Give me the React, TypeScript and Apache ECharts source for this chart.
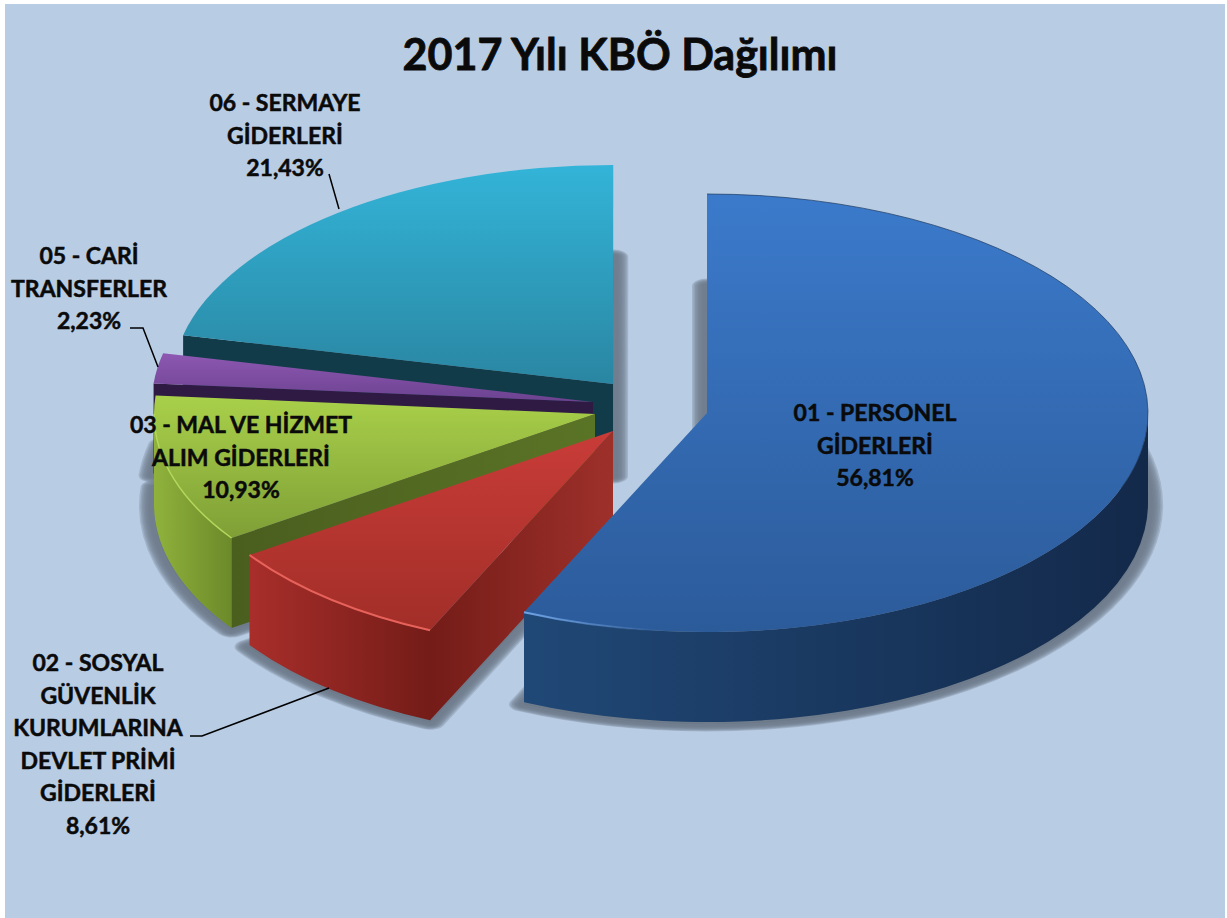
import React, { useEffect, useRef } from "react";
import * as echarts from "echarts";

const titleText = "2017 Yılı KBÖ Dağılımı";
const categories = [
  "01 - PERSONEL\nGİDERLERİ",
  "02 - SOSYAL\nGÜVENLİK\nKURUMLARINA\nDEVLET PRİMİ\nGİDERLERİ",
  "03 - MAL VE HİZMET\nALIM GİDERLERİ",
  "05 - CARİ\nTRANSFERLER",
  "06 - SERMAYE\nGİDERLERİ",
];
const values = [56.81, 8.61, 10.93, 2.23, 21.43];
const percentLabels = ["56,81%", "8,61%", "10,93%", "2,23%", "21,43%"];

// Layout and style, separate from the data
const RX = 441;
const RY = 219;
const DEPTH = 90;
const centers = [
  [707, 413],
  [613, 431],
  [595, 414],
  [593, 402],
  [613, 384],
];
const topColors = [
  ["#3B7ACB", "#2C5B9A"],
  ["#C93C38", "#A22E28"],
  ["#A9D04A", "#7F9F36"],
  ["#8D58B2", "#6C4290"],
  ["#33B4D8", "#2A86A2"],
];
const outerWall = [
  ["#204876", "#13294A"],
  ["#A82E2A", "#741C18"],
  ["#90B23C", "#6C8A2A"],
  ["#2E1A42", "#2E1A42"],
  ["#123A48", "#123A48"],
];
const sideWall = [
  ["#204876", "#204876"],
  ["#741C18", "#9E302A"],
  ["#4A5E1E", "#5A7426"],
  ["#2E1A42", "#2E1A42"],
  ["#123B49", "#123B49"],
];
const rimColors = ["#6FA3E6", "#E8625C", "#B4D85C", "#A97BCB", "#5CC8E4"];
const labelPos = [
  [875, 412],
  [98, 662],
  [241, 424],
  [89, 255],
  [285, 102],
];
const leaders = [
  null,
  [[190, 736], [202, 736], [329, 688]],
  null,
  [[130, 328], [143, 328], [158, 367]],
  [[329, 174], [339, 209]],
];
const drawOrder = [4, 3, 2, 1, 0];
const shadowStrokes = [30, 27, 24, 21, 18, 15, 12, 9];

const toRad = Math.PI / 180;
const starts: number[] = [];
values.reduce((acc, v, i) => {
  starts[i] = acc;
  return acc + v * 3.6;
}, 0);

function pt(i: number, deg: number, dy = 0) {
  const [cx, cy] = centers[i];
  return [cx + RX * Math.sin(deg * toRad), cy - RY * Math.cos(deg * toRad) + dy];
}
function arcTo(i: number, deg: number, sweep: number, large: number, dy = 0) {
  const p = pt(i, deg, dy);
  return `A${RX} ${RY} 0 ${large} ${sweep} ${p[0].toFixed(2)} ${p[1].toFixed(2)}`;
}
function wedgePath(i: number, dy = 0) {
  const a = starts[i];
  const b = a + values[i] * 3.6;
  const [cx, cy] = centers[i];
  const s = pt(i, a, dy);
  return `M${cx} ${cy + dy}L${s[0].toFixed(2)} ${s[1].toFixed(2)}${arcTo(i, b, 1, b - a > 180 ? 1 : 0, dy)}Z`;
}
// Same wedge with y doubled: the element is drawn at scaleY 0.5, so its stroke grows half as much vertically.
function shadowWedge(i: number, dy: number) {
  const a = starts[i];
  const b = a + values[i] * 3.6;
  const [cx, cy] = centers[i];
  const s = pt(i, a, dy);
  const e = pt(i, b, dy);
  return `M${cx} ${(cy + dy) * 2}L${s[0].toFixed(2)} ${(s[1] * 2).toFixed(2)}A${RX} ${RY * 2} 0 ${b - a > 180 ? 1 : 0} 1 ${e[0].toFixed(2)} ${(e[1] * 2).toFixed(2)}Z`;
}
function sidePath(i: number) {
  const [cx, cy] = centers[i];
  const s = pt(i, starts[i]);
  return `M${cx} ${cy}L${s[0]} ${s[1]}L${s[0]} ${s[1] + DEPTH}L${cx} ${cy + DEPTH}Z`;
}
function wallPath(i: number) {
  const a = Math.max(starts[i], 90);
  const b = Math.min(starts[i] + values[i] * 3.6, 270);
  if (b <= a) return null;
  const s = pt(i, a);
  const e = pt(i, b, DEPTH);
  return `M${s[0]} ${s[1]}${arcTo(i, b, 1, 0)}L${e[0]} ${e[1]}${arcTo(i, a, 0, 0, DEPTH)}Z`;
}
function arcLine(i: number, a: number, b: number) {
  const s = pt(i, a);
  return `M${s[0]} ${s[1]}${arcTo(i, b, 1, b - a > 180 ? 1 : 0)}`;
}
const vGrad = (c: string[]) =>
  new echarts.graphic.LinearGradient(0, 0, 0, 1, [
    { offset: 0, color: c[0] },
    { offset: 1, color: c[1] },
  ]);
const hGrad = (c: string[]) =>
  new echarts.graphic.LinearGradient(0, 0, 1, 0, [
    { offset: 0, color: c[0] },
    { offset: 1, color: c[1] },
  ]);

function renderShadow(params: any) {
  const i = drawOrder[params.dataIndex];
  const pathData = shadowWedge(i, DEPTH + 2);
  return {
    type: "group",
    silent: true,
    children: shadowStrokes.map((w) => ({
      type: "path",
      scaleY: 0.5,
      shape: { pathData },
      style: {
        fill: "#6E7A8A",
        stroke: "#6E7A8A",
        lineWidth: w,
        lineJoin: "round",
        opacity: 0.3,
      },
    })),
  };
}

function renderSlice(params: any) {
  const i = drawOrder[params.dataIndex];
  const children: any[] = [];
  if (i !== 0) {
    children.push({
      type: "path",
      shape: { pathData: sidePath(i) },
      style: { fill: hGrad(sideWall[i]) },
    });
  }
  const wall = wallPath(i);
  if (wall) {
    children.push({
      type: "path",
      shape: { pathData: wall },
      style: { fill: hGrad(outerWall[i]) },
    });
  }
  children.push({
    type: "path",
    shape: { pathData: wedgePath(i) },
    style: { fill: vGrad(topColors[i]) },
  });
  const a = starts[i];
  const b = a + values[i] * 3.6;
  if (i === 0) {
    children.push({
      type: "path",
      shape: { pathData: arcLine(i, 0, 110) },
      style: { fill: "none", stroke: "#1E3A60", lineWidth: 1, opacity: 0.7 },
    });
    children.push({
      type: "path",
      shape: { pathData: arcLine(i, 186, b) },
      style: {
        fill: "none",
        lineWidth: 2,
        stroke: new echarts.graphic.LinearGradient(1, 0, 0, 0, [
          { offset: 0, color: "rgba(111,163,230,0)" },
          { offset: 1, color: rimColors[0] },
        ]),
      },
    });
  } else if (i <= 2) {
    children.push({
      type: "path",
      shape: { pathData: arcLine(i, a, Math.min(b, 270)) },
      style: { fill: "none", stroke: rimColors[i], lineWidth: i === 1 ? 2 : 1.5 },
    });
  }
  return { type: "group", children };
}

export default function App() {
  const ref = useRef<HTMLDivElement>(null);
  useEffect(() => {
    document.body.style.margin = "0";
    document.body.style.overflow = "hidden";
    const chart = echarts.init(ref.current!, null, { renderer: "svg" });
    const labelFont = {
      fontFamily: "Lato",
      fontWeight: "bold",
      fontSize: 23,
      fill: "#0A0A0A",
      stroke: "#0A0A0A",
      lineWidth: 0.5,
    };
    const graphics: any[] = [
      { type: "rect", z: -10, silent: true, shape: { x: 5, y: 4, width: 1220, height: 914 }, style: { fill: "#B8CCE4" } },
    ];
    categories.forEach((name, i) => {
      const lines = `${name}\n${percentLabels[i]}`.split("\n");
      lines.forEach((line, k) => {
        graphics.push({
          type: "text",
          z: 20,
          silent: true,
          x: labelPos[i][0],
          y: labelPos[i][1] + k * 32.6,
          style: { ...labelFont, text: line, textAlign: "center", textVerticalAlign: "middle" },
        });
      });
      const l = leaders[i];
      if (l) {
        graphics.push({
          type: "polyline",
          z: 19,
          silent: true,
          shape: { points: l },
          style: { fill: "none", stroke: "#000", lineWidth: 1.5 },
        });
      }
    });
    chart.setOption({
      animation: false,
      backgroundColor: "#FFFFFF",
      title: {
        text: titleText,
        left: 615,
        textAlign: "center",
        top: 27,
        textStyle: {
          fontFamily: "Lato",
          fontWeight: "bold",
          fontSize: 43,
          color: "#0A0A0A",
          textBorderColor: "#0A0A0A",
          textBorderWidth: 0.8,
        },
      },
      graphic: graphics,
      series: [
        {
          type: "custom",
          coordinateSystem: "none",
          z: 2,
          silent: true,
          data: drawOrder.map((i) => values[i]),
          renderItem: renderShadow,
        },
        {
          type: "custom",
          coordinateSystem: "none",
          z: 3,
          silent: true,
          data: drawOrder.map((i) => values[i]),
          renderItem: renderSlice,
        },
      ],
    });
    return () => chart.dispose();
  }, []);
  return <div ref={ref} style={{ position: "absolute", left: 0, top: 0, width: 1227, height: 918 }} />;
}
